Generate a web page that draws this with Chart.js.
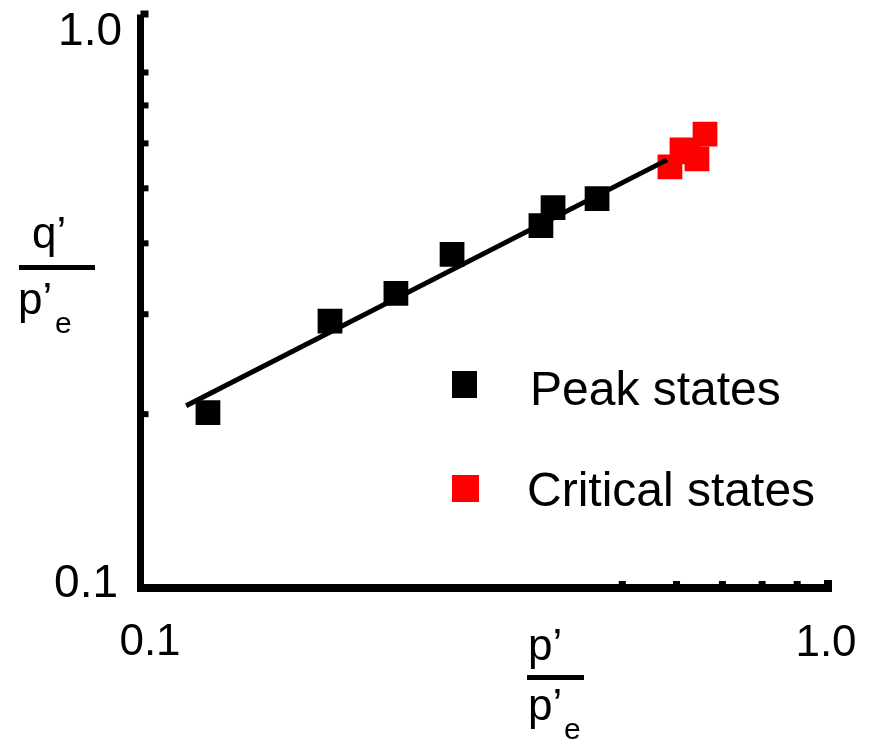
<!DOCTYPE html>
<html>
<head>
<meta charset="utf-8">
<script src="https://cdn.jsdelivr.net/npm/chart.js@4/dist/chart.umd.min.js"></script>
<style>
  html, body { margin: 0; padding: 0; background: #fff; }
  canvas { display: block; }
</style>
</head>
<body>
<canvas id="stateChart" width="881" height="743"></canvas>
<script>
// peak states (black) and critical states (red), normalised by p'e
const peakX = [0.1244, 0.1875, 0.2340, 0.2826, 0.3810, 0.3968, 0.4601];
const peakY = [0.2012, 0.2917, 0.3266, 0.3824, 0.4299, 0.4623, 0.4795];
const critX = [0.5878, 0.6121, 0.6246, 0.6437, 0.6614];
const critY = [0.5455, 0.5842, 0.5799, 0.5634, 0.6233];

// fitted line end points
const fitX = [0.1156, 0.5821];
const fitY = [0.2069, 0.5612];

// minor ticks and axis labels
const xMinorTicks = [0.5, 0.6, 0.7, 0.8, 0.9];
const yMinorTicks = [0.2, 0.3, 0.4, 0.5, 0.6, 0.7, 0.8];
const axisLabels = ['0.1', '1.0'];
const axisBounds = [0.1, 1.0];
const legendLabels = ['Peak states', 'Critical states'];

const FONT = '"Liberation Sans", Arial, sans-serif';

const toPoints = (xs, ys) => xs.map((x, i) => ({ x: x, y: ys[i] }));

const axesPlugin = {
    id: 'axesPlugin',
    afterDraw(chart) {
        const ctx = chart.ctx;
        const xs = chart.scales.x;
        const ys = chart.scales.y;
        const x0 = xs.getPixelForValue(axisBounds[0]);
        const x1 = xs.getPixelForValue(axisBounds[1]);
        const y0 = ys.getPixelForValue(axisBounds[0]);
        const y1 = ys.getPixelForValue(axisBounds[1]);
        const axisX = x0 - 2.5;
        const axisY = y0 + 3;

        ctx.save();
        ctx.fillStyle = '#000';

        // axis lines
        ctx.fillRect(axisX - 3.5, y1 - 3, 7, axisY + 4 - (y1 - 3));
        ctx.fillRect(axisX - 3.5, axisY - 4, x1 - axisX + 2, 8);
        // end caps
        ctx.fillRect(axisX, y1 - 7, 8, 7);
        ctx.fillRect(x1 - 4, axisY - 8, 8, 12);

        // small inward ticks
        yMinorTicks.forEach(v => {
            const py = ys.getPixelForValue(v);
            ctx.fillRect(axisX + 3, py - 3, 5, 6);
        });
        xMinorTicks.forEach(v => {
            const px = xs.getPixelForValue(v);
            ctx.fillRect(px - 3, axisY - 7, 7, 4);
        });

        // tick labels
        ctx.font = '46px ' + FONT;
        ctx.textBaseline = 'middle';
        ctx.textAlign = 'right';
        ctx.fillText(axisLabels[1], x0 - 21, y1 + 15);
        ctx.fillText(axisLabels[0], x0 - 25, y0 - 1);
        ctx.font = '44px ' + FONT;
        ctx.textAlign = 'center';
        ctx.fillText(axisLabels[0], x0 + 7, y0 + 58);
        ctx.fillText(axisLabels[1], x1 - 2, y0 + 59);

        // axis titles as fractions
        ctx.textAlign = 'left';
        ctx.textBaseline = 'alphabetic';
        ctx.font = '44px ' + FONT;
        ctx.fillText('q\u2019', 32, 248);
        ctx.fillRect(19, 265, 76, 5);
        ctx.fillText('p\u2019', 18, 314);
        ctx.font = '30px ' + FONT;
        ctx.fillText('e', 55, 333);

        ctx.font = '44px ' + FONT;
        ctx.fillText('p\u2019', 528, 660);
        ctx.fillRect(527, 675, 57, 5);
        ctx.fillText('p\u2019', 528, 720);
        ctx.font = '30px ' + FONT;
        ctx.fillText('e', 564, 739);

        // legend
        ctx.fillStyle = chart.data.datasets[1].backgroundColor;
        ctx.fillRect(452, 371, 25, 27);
        ctx.fillStyle = chart.data.datasets[2].backgroundColor;
        ctx.fillRect(452, 475, 27, 27);
        ctx.fillStyle = '#000';
        ctx.font = '48px ' + FONT;
        ctx.fillText(legendLabels[0], 530, 405);
        ctx.fillText(legendLabels[1], 527, 506);

        ctx.restore();
    }
};

new Chart(document.getElementById('stateChart').getContext('2d'), {
    type: 'scatter',
    data: {
        datasets: [{
            label: 'fit',
            data: toPoints(fitX, fitY),
            showLine: true,
            borderColor: '#000',
            borderWidth: 5,
            pointRadius: 0,
            fill: false
        }, {
            label: legendLabels[0],
            data: toPoints(peakX, peakY),
            pointStyle: 'rect',
            pointRadius: 17.5,
            pointHoverRadius: 17.5,
            backgroundColor: '#000',
            borderWidth: 0
        }, {
            label: legendLabels[1],
            data: toPoints(critX, critY),
            pointStyle: 'rect',
            pointRadius: 17.5,
            pointHoverRadius: 17.5,
            backgroundColor: '#ff0000',
            borderWidth: 0
        }]
    },
    options: {
        responsive: false,
        animation: false,
        layout: {
            padding: { left: 143, right: 53, top: 15, bottom: 158 }
        },
        scales: {
            x: { type: 'logarithmic', min: axisBounds[0], max: axisBounds[1], display: false },
            y: { type: 'logarithmic', min: axisBounds[0], max: axisBounds[1], display: false }
        },
        plugins: {
            legend: { display: false },
            tooltip: { enabled: false }
        }
    },
    plugins: [axesPlugin]
});
</script>
</body>
</html>
